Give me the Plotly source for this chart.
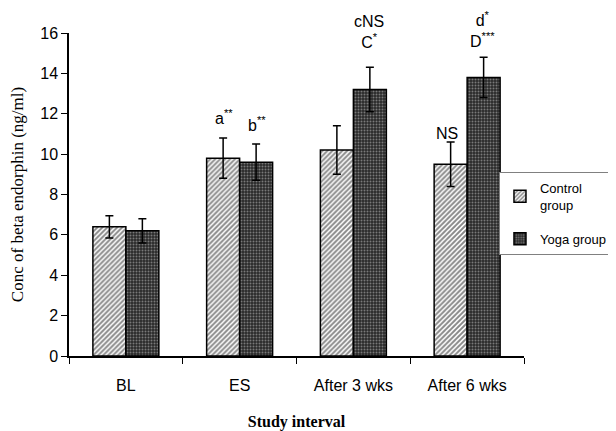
import plotly.graph_objects as go

categories = ["BL", "ES", "After 3 wks", "After 6 wks"]
control = [6.4, 9.8, 10.2, 9.5]
control_err = [0.55, 1.0, 1.2, 1.1]
yoga = [6.2, 9.6, 13.2, 13.8]
yoga_err = [0.6, 0.9, 1.1, 1.0]
y_ticks = [0, 2, 4, 6, 8, 10, 12, 14, 16]

fig = go.Figure()
fig.add_trace(go.Bar(
    name="Control<br>group", x=categories, y=control, legendgroup="c",
    error_y=dict(type="data", array=control_err, color="black", thickness=1.5, width=4),
    marker=dict(color="white", line=dict(color="black", width=1.5),
                pattern=dict(shape="/", fgcolor="#111111", bgcolor="white", size=3.5, solidity=0.55)),
))
fig.add_trace(go.Bar(
    name="Yoga group", x=categories, y=yoga, legendgroup="y",
    error_y=dict(type="data", array=yoga_err, color="black", thickness=1.5, width=4),
    marker=dict(color="#333333", line=dict(color="black", width=1.5),
                pattern=dict(shape=".", fgcolor="#c8c8c8", bgcolor="#2a2a2a", size=3, solidity=0.35)),
))

ann_font = dict(family="Arial", size=16, color="black")
labels = [
    ("ES", -16, control[1] + control_err[1], 9, "a<sup>**</sup>"),
    ("ES", 17, yoga[1] + yoga_err[1], 8, "b<sup>**</sup>"),
    ("After 3 wks", 16, yoga[2] + yoga_err[2], 14, "cNS<br>C<sup>*</sup>"),
    ("After 6 wks", -20, control[3] + control_err[3], -2, "NS"),
    ("After 6 wks", 15, yoga[3] + yoga_err[3], 5, "d<sup>*</sup><br>D<sup>***</sup>"),
]
for cat, xs, yv, ys, txt in labels:
    fig.add_annotation(x=cat, y=yv, xshift=xs, yshift=ys, text=txt, showarrow=False,
                       yanchor="bottom", font=ann_font)

fig.update_layout(
    width=608, height=423, barmode="group", bargap=0.42, bargroupgap=0,
    paper_bgcolor="white", plot_bgcolor="white",
    margin=dict(l=61, r=92, t=25, b=75, autoexpand=False),
    showlegend=True,
    legend=dict(x=0.945, y=0.57, xanchor="left", yanchor="top",
                bordercolor="#808080", borderwidth=1, bgcolor="white",
                font=dict(family="Arial", size=13, color="black"),
                itemwidth=30, tracegroupgap=14),
    xaxis=dict(showline=True, linecolor="black", linewidth=1.5, ticks="outside",
               tickson="boundaries", ticklen=6, tickcolor="black", automargin=False,
               ticklabelstandoff=14,
               tickfont=dict(family="Arial", size=16, color="black"),
               title=dict(text="<b>Study interval</b>", font=dict(family="Liberation Serif", size=16, color="black"), standoff=25)),
    yaxis=dict(range=[0, 16], tickvals=y_ticks, showline=True, linecolor="black", linewidth=1.5,
               ticks="outside", ticklen=6, tickcolor="black", showgrid=False, zeroline=False,
               automargin=False,
               tickfont=dict(family="Arial", size=16, color="black"),
               title=dict(text="Conc of beta endorphin (ng/ml)", font=dict(family="Liberation Serif", size=17, color="black"), standoff=12)),
)
fig.write_html("out.html")
